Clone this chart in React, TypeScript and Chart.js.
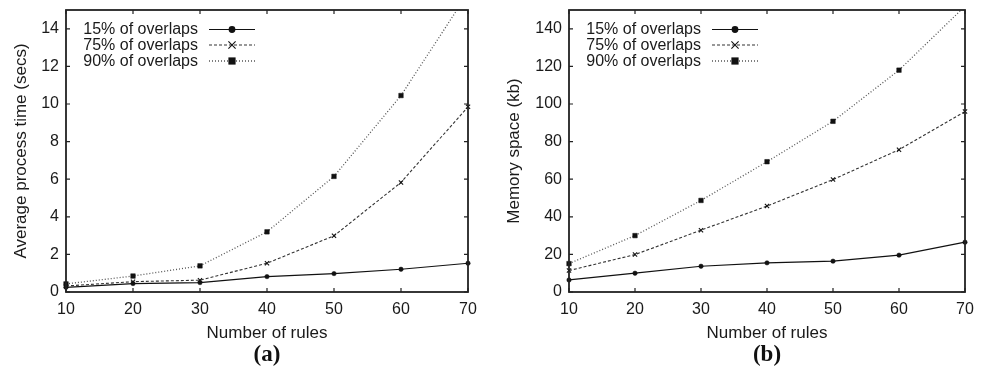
import React, { useEffect, useRef } from 'react';
import { Chart, registerables } from 'chart.js';

Chart.register(...registerables);

// ---- data ----
const rules = [10, 20, 30, 40, 50, 60, 70];
const seriesLabels = ['15% of overlaps', '75% of overlaps', '90% of overlaps'];

const time15 = [0.25, 0.45, 0.5, 0.82, 0.98, 1.21, 1.53];
const time75 = [0.32, 0.55, 0.63, 1.53, 2.99, 5.83, 9.85];
const time90 = [0.43, 0.85, 1.39, 3.2, 6.15, 10.45, 15.9];

const mem15 = [6.4, 10, 13.7, 15.5, 16.4, 19.6, 26.5];
const mem75 = [11.4, 19.9, 32.9, 45.7, 59.8, 75.7, 96];
const mem90 = [15.1, 30, 48.7, 69.3, 90.8, 118, 152];

const xTicks = [10, 20, 30, 40, 50, 60, 70];
const timeTicks = [0, 2, 4, 6, 8, 10, 12, 14];
const memTicks = [0, 20, 40, 60, 80, 100, 120, 140];

// ---- styles ----
const SANS = '"Liberation Sans", Arial, Helvetica, sans-serif';
const SERIF = '"Liberation Serif", "Times New Roman", serif';
const TEXT = '#1a1a1a';

type Style = {
  color: string;
  dash: number[];
  width: number;
  point: 'circle' | 'crossRot' | 'rect';
  radius: number;
  legendSize: number;
};

const styles: Style[] = [
  { color: '#111111', dash: [], width: 1.2, point: 'circle', radius: 2.2, legendSize: 3.4 },
  { color: '#333333', dash: [3, 2], width: 1.1, point: 'crossRot', radius: 3, legendSize: 3.6 },
  { color: '#555555', dash: [1, 2], width: 1.3, point: 'rect', radius: 3.2, legendSize: 3.6 },
];

type PanelProps = {
  panelLabel: string;
  yTitle: string;
  yMax: number;
  yTicks: number[];
  series: number[][];
  yAxisWidth: number;
  rightPad: number;
  yTitlePad: number;
};

function drawMarker(ctx: CanvasRenderingContext2D, s: Style, x: number, y: number, r: number) {
  ctx.save();
  ctx.setLineDash([]);
  ctx.fillStyle = '#111';
  ctx.strokeStyle = '#111';
  ctx.lineWidth = 1.1;
  if (s.point === 'circle') {
    ctx.beginPath();
    ctx.arc(x, y, r, 0, Math.PI * 2);
    ctx.fill();
  } else if (s.point === 'rect') {
    ctx.fillRect(x - r, y - r, 2 * r, 2 * r);
  } else {
    ctx.beginPath();
    ctx.moveTo(x - r, y - r);
    ctx.lineTo(x + r, y + r);
    ctx.moveTo(x - r, y + r);
    ctx.lineTo(x + r, y - r);
    ctx.stroke();
  }
  ctx.restore();
}

function Panel({ panelLabel, yTitle, yMax, yTicks, series, yAxisWidth, rightPad, yTitlePad }: PanelProps) {
  const ref = useRef<HTMLCanvasElement | null>(null);

  useEffect(() => {
    if (!ref.current) return;

    const framePlugin = {
      id: 'frameTicks',
      afterDatasetsDraw(chart: any) {
        const { ctx, chartArea } = chart;
        const { left, right, top, bottom } = chartArea;
        const xs = chart.scales.x;
        const ys = chart.scales.y;
        ctx.save();
        ctx.setLineDash([]);
        ctx.strokeStyle = '#222';
        ctx.lineWidth = 1.2;
        ctx.beginPath();
        xTicks.forEach((v) => {
          const px = xs.getPixelForValue(v);
          ctx.moveTo(px, bottom);
          ctx.lineTo(px, bottom - 4);
          ctx.moveTo(px, top);
          ctx.lineTo(px, top + 4);
        });
        yTicks.forEach((v) => {
          const py = ys.getPixelForValue(v);
          ctx.moveTo(left, py);
          ctx.lineTo(left + 4, py);
          ctx.moveTo(right, py);
          ctx.lineTo(right - 4, py);
        });
        ctx.stroke();
        ctx.lineWidth = 1.8;
        ctx.strokeRect(left, top, right - left, bottom - top);

        // legend (top-left, inside plot)
        ctx.font = `16px ${SANS}`;
        ctx.fillStyle = TEXT;
        ctx.textAlign = 'right';
        ctx.textBaseline = 'middle';
        const rows = [19.5, 35, 51];
        seriesLabels.forEach((label, i) => {
          const s = styles[i];
          const y = top + rows[i];
          ctx.fillText(label, left + 132, y + 0.5);
          ctx.save();
          ctx.strokeStyle = s.color;
          ctx.lineWidth = s.width;
          ctx.setLineDash(s.dash);
          ctx.beginPath();
          ctx.moveTo(left + 143, y);
          ctx.lineTo(left + 189, y);
          ctx.stroke();
          ctx.restore();
          drawMarker(ctx, s, left + 166, y, s.legendSize);
        });
        ctx.restore();
      },
    };

    const tickFont = { family: SANS, size: 16 };
    const titleFont = { family: SANS, size: 17 };

    const chart = new Chart(ref.current, {
      type: 'line',
      data: {
        datasets: series.map((vals, i) => {
          const s = styles[i];
          return {
            label: seriesLabels[i],
            data: rules.map((x, j) => ({ x, y: vals[j] })),
            borderColor: s.color,
            borderWidth: s.width,
            borderDash: s.dash,
            pointStyle: s.point,
            pointRadius: s.radius,
            pointHoverRadius: s.radius,
            pointBackgroundColor: '#111',
            pointBorderColor: '#111',
            pointBorderWidth: s.point === 'crossRot' ? 1.1 : 0.5,
            tension: 0,
            fill: false,
            clip: { left: 8, right: 8, top: 0, bottom: 8 },
          } as any;
        }),
      },
      options: {
        responsive: false,
        animation: false,
        events: [],
        layout: { padding: { top: 10, right: rightPad, bottom: 0, left: 0 } },
        plugins: {
          legend: { display: false },
          tooltip: { enabled: false },
          title: {
            display: true,
            text: panelLabel,
            position: 'bottom',
            fullSize: false,
            color: '#111',
            font: { family: SERIF, size: 23, weight: 'bold', lineHeight: 1 },
            padding: { top: 0, bottom: 8.5 },
          },
        },
        scales: {
          x: {
            type: 'linear',
            min: 10,
            max: 70,
            grid: { display: false, drawTicks: false },
            border: { display: false },
            afterBuildTicks: (s: any) => {
              s.ticks = xTicks.map((v) => ({ value: v }));
            },
            afterFit: (s: any) => {
              s.height = 51.5;
              s.paddingLeft = 0;
              s.paddingRight = 0;
            },
            ticks: { padding: 8.2, font: tickFont, color: TEXT, maxRotation: 0 },
            title: {
              display: true,
              text: 'Number of rules',
              font: titleFont,
              color: TEXT,
              padding: { top: 0, bottom: 0 },
            },
          },
          y: {
            type: 'linear',
            min: 0,
            max: yMax,
            grid: { display: false, drawTicks: false },
            border: { display: false },
            afterBuildTicks: (s: any) => {
              s.ticks = yTicks.map((v) => ({ value: v }));
            },
            afterFit: (s: any) => {
              s.width = yAxisWidth;
              s.paddingTop = 0;
              s.paddingBottom = 0;
            },
            ticks: { padding: 7, font: tickFont, color: TEXT },
            title: {
              display: true,
              text: yTitle,
              font: titleFont,
              color: TEXT,
              padding: { top: yTitlePad, bottom: 0 },
            },
          },
        },
      } as any,
      plugins: [framePlugin],
    });

    return () => chart.destroy();
  }, []);

  return (
    <div style={{ width: 492, height: 375 }}>
      <canvas ref={ref} width={492} height={375} style={{ width: 492, height: 375, display: 'block' }} />
    </div>
  );
}

export default function App() {
  return (
    <div style={{ position: 'fixed', left: 0, top: 0, width: 984, height: 375, display: 'flex', background: '#fff' }}>
      <Panel
        panelLabel="(a)"
        yTitle="Average process time (secs)"
        yMax={15}
        yTicks={timeTicks}
        series={[time15, time75, time90]}
        yAxisWidth={66}
        rightPad={24}
        yTitlePad={10.8}
      />
      <Panel
        panelLabel="(b)"
        yTitle="Memory space (kb)"
        yMax={150}
        yTicks={memTicks}
        series={[mem15, mem75, mem90]}
        yAxisWidth={77}
        rightPad={19}
        yTitlePad={12.3}
      />
    </div>
  );
}
